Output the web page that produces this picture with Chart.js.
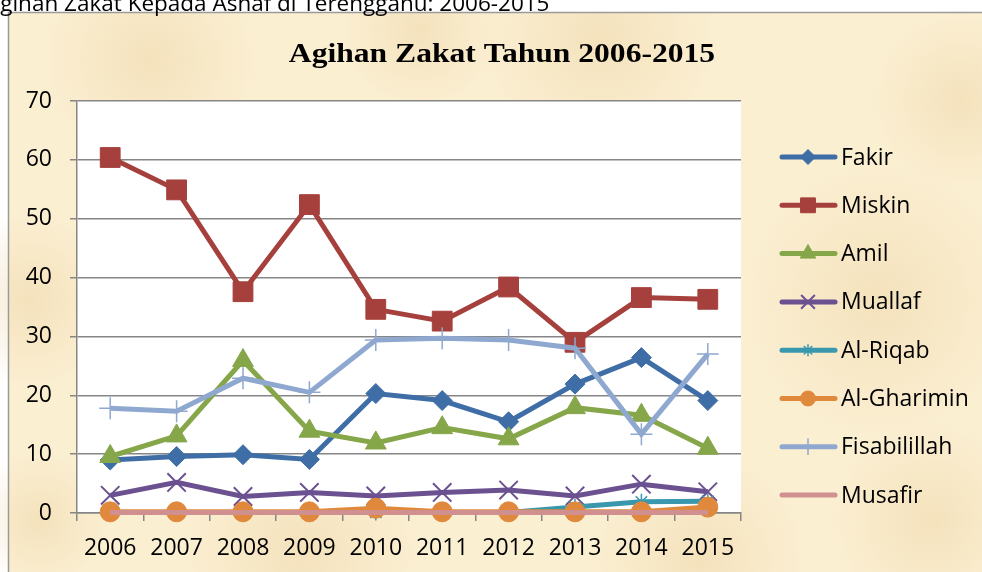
<!DOCTYPE html>
<html>
<head>
<meta charset="utf-8">
<script src="https://cdn.jsdelivr.net/npm/chart.js@4.4.0/dist/chart.umd.min.js"></script>
<style>
  html, body { margin: 0; padding: 0; background: #fff; overflow: hidden; }
  #wrap { position: relative; width: 982px; height: 572px; }
  #caption { position: absolute; left: -14px; top: -13px; z-index: 2; white-space: nowrap;
             font: 22.5px 'Open Sans', sans-serif; color: #000; }
  #chart { position: absolute; left: 0; top: 0; }
</style>
</head>
<body>
<div id="wrap">
  <div id="caption">Agihan Zakat Kepada Asnaf di Terengganu: 2006-2015</div>
  <canvas id="chart" width="982" height="572"></canvas>
</div>
<script>
// data
const years = ['2006', '2007', '2008', '2009', '2010', '2011', '2012', '2013', '2014', '2015'];
const fakir        = [9.0, 9.6, 9.9, 9.1, 20.3, 19.1, 15.5, 21.9, 26.4, 19.1];
const miskin       = [60.4, 54.9, 37.6, 52.4, 34.6, 32.6, 38.4, 29.0, 36.6, 36.3];
const amil         = [9.6, 13.1, 25.9, 13.9, 11.9, 14.5, 12.6, 17.9, 16.6, 11.0];
const muallaf      = [3.0, 5.2, 2.8, 3.5, 2.9, 3.5, 3.9, 2.9, 4.9, 3.6];
const alRiqab      = [0.1, 0.1, 0.1, 0.1, 0.1, 0.1, 0.1, 1.0, 1.9, 2.0];
const alGharimin   = [0.2, 0.2, 0.2, 0.2, 0.8, 0.2, 0.2, 0.2, 0.2, 1.0];
const fisabilillah = [17.8, 17.3, 22.9, 20.5, 29.4, 29.7, 29.4, 28.0, 13.4, 27.0];
const musafir      = [0.1, 0.1, 0.1, 0.1, 0.1, 0.1, 0.1, 0.1, 0.1, 0.1];
const yTicks = [0, 10, 20, 30, 40, 50, 60, 70];

const seriesNames = ['Fakir', 'Miskin', 'Amil', 'Muallaf', 'Al-Riqab', 'Al-Gharimin', 'Fisabilillah', 'Musafir'];
const seriesData = [fakir, miskin, amil, muallaf, alRiqab, alGharimin, fisabilillah, musafir];
const colors = ['#3F6EA7', '#A5403D', '#86A64A', '#6B5190', '#3A98AE', '#E0893C', '#8FA8D0', '#D0908F'];
const markers = [
  { style: 'rectRot', r: 10, bw: 1 },
  { style: 'rect', r: 14, bw: 1 },
  { style: 'triangle', r: 12, bw: 1 },
  { style: 'crossRot', r: 13, bw: 2 },
  { style: 'star', r: 8, bw: 1.5 },
  { style: 'circle', r: 10, bw: 1 },
  { style: 'cross', r: 11, bw: 1.5 },
  { style: false, r: 0, bw: 0 }
];

const datasets = seriesNames.map(function(name, i) {
  return {
    label: name,
    data: seriesData[i],
    borderColor: colors[i],
    backgroundColor: colors[i],
    borderWidth: 5,
    pointStyle: markers[i].style,
    pointRadius: markers[i].r,
    pointBorderWidth: markers[i].bw,
    pointBorderColor: colors[i],
    pointBackgroundColor: colors[i],
    tension: 0,
    clip: false,
    order: seriesNames.length - i   // last series painted on top, like Excel
  };
});

// parchment background, frame, title and legend
const paper = {
  id: 'paper',
  beforeDraw(chart) {
    const ctx = chart.ctx, a = chart.chartArea;
    ctx.save();
    ctx.fillStyle = '#fff';
    ctx.fillRect(0, 0, chart.width, chart.height);
    ctx.fillStyle = '#FBEFD2';
    ctx.fillRect(8, 12, chart.width, chart.height);
    const spots = [[30, 300, 90], [150, 60, 110], [600, 40, 120], [880, 300, 140], [300, 550, 120],
                   [700, 560, 110], [40, 520, 70], [420, 30, 80], [960, 100, 90], [930, 520, 100]];
    spots.forEach(function(s) {
      const g = ctx.createRadialGradient(s[0], s[1], 0, s[0], s[1], s[2]);
      g.addColorStop(0, 'rgba(236, 210, 162, 0.45)');
      g.addColorStop(1, 'rgba(236, 210, 162, 0)');
      ctx.fillStyle = g;
      ctx.fillRect(s[0] - s[2], s[1] - s[2], s[2] * 2, s[2] * 2);
    });
    ctx.fillStyle = '#fff';
    ctx.fillRect(0, 0, chart.width, 12);
    ctx.strokeStyle = '#9a9a9a';
    ctx.lineWidth = 1.5;
    ctx.beginPath();
    ctx.moveTo(8.5, chart.height);
    ctx.lineTo(8.5, 12.5);
    ctx.lineTo(chart.width, 12.5);
    ctx.stroke();
    ctx.fillStyle = '#fff';
    ctx.fillRect(a.left, a.top, a.right - a.left, a.bottom - a.top);
    ctx.restore();
  },
  afterDraw(chart) {
    const ctx = chart.ctx;
    ctx.save();
    ctx.fillStyle = '#000';
    ctx.font = 'bold 27px "Liberation Serif", serif';
    ctx.textAlign = 'center';
    ctx.textBaseline = 'alphabetic';
    ctx.translate(502, 62);
    ctx.scale(1.17, 1);
    ctx.fillText('Agihan Zakat Tahun 2006-2015', 0, 0);
    ctx.restore();

    // legend: line with marker, then name
    ctx.save();
    seriesNames.forEach(function(name, i) {
      const y = 157 + i * 48.3;
      ctx.strokeStyle = colors[i];
      ctx.lineWidth = 5;
      ctx.lineCap = 'round';
      ctx.beginPath();
      ctx.moveTo(782, y);
      ctx.lineTo(835, y);
      ctx.stroke();
      ctx.lineCap = 'butt';
      if (markers[i].style) {
        ctx.fillStyle = colors[i];
        ctx.lineWidth = markers[i].bw;
        Chart.helpers.drawPoint(ctx, {
          pointStyle: markers[i].style,
          radius: markers[i].r * 0.75,
          rotation: 0,
          borderWidth: markers[i].bw
        }, 808, y);
      }
      ctx.fillStyle = '#000';
      ctx.font = '23px "Open Sans", sans-serif';
      ctx.textAlign = 'left';
      ctx.textBaseline = 'middle';
      ctx.fillText(name, 841, y + 1);
    });
    ctx.restore();
  }
};

const axisFont = { family: 'Open Sans', size: 23 };

new Chart(document.getElementById('chart').getContext('2d'), {
  type: 'line',
  data: { labels: years, datasets: datasets },
  options: {
    responsive: false,
    animation: false,
    layout: { padding: { left: 0, top: 101, right: 241, bottom: 0 } },
    plugins: {
      legend: { display: false },
      title: { display: false },
      tooltip: { enabled: false }
    },
    scales: {
      x: {
        offset: true,
        grid: { offset: true, drawOnChartArea: false, drawTicks: true, tickLength: 8, color: '#868686', lineWidth: 1.5 },
        border: { color: '#868686', width: 1.5 },
        ticks: { color: '#000', font: axisFont, padding: 14, maxRotation: 0 },
        afterFit(s) { s.height = 59; }
      },
      y: {
        min: 0,
        max: 70,
        afterBuildTicks(s) { s.ticks = yTicks.map(v => ({ value: v })); },
        grid: { color: '#868686', lineWidth: 1.5, tickLength: 7 },
        border: { color: '#868686', width: 1.5 },
        ticks: { color: '#000', font: axisFont, padding: 18 },
        afterFit(s) { s.width = 77; }
      }
    }
  },
  plugins: [paper]
});
</script>
</body>
</html>
